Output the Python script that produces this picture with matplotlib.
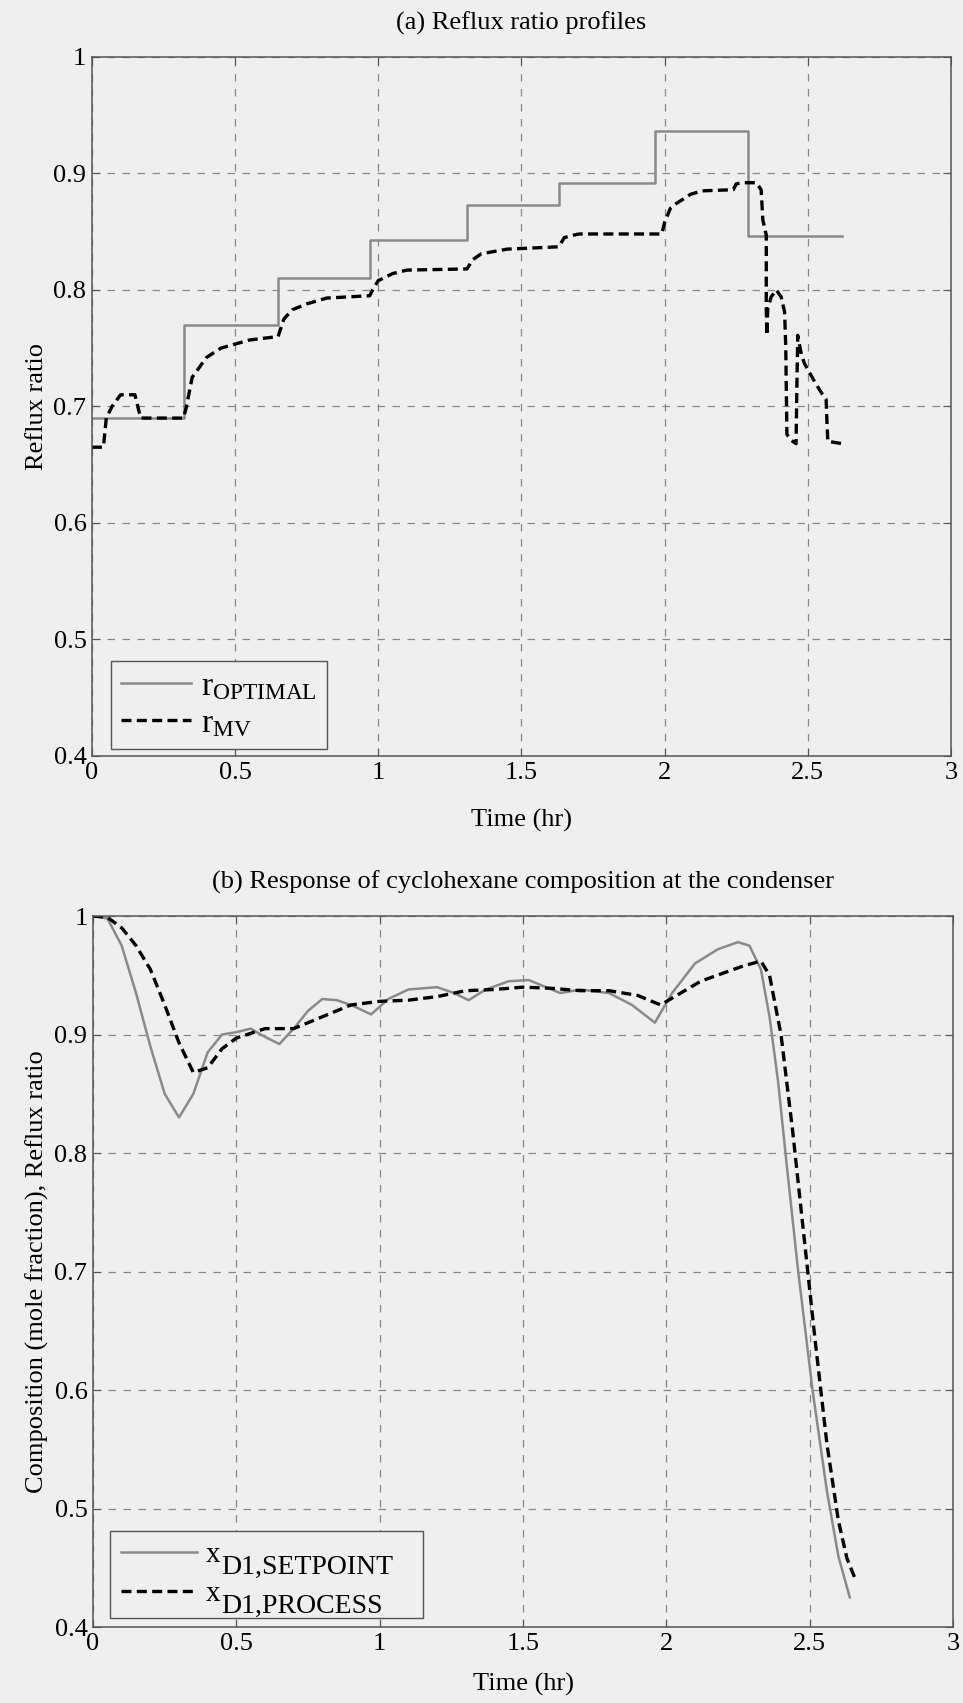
import matplotlib
matplotlib.use("Agg")
import matplotlib.pyplot as plt
from matplotlib.transforms import IdentityTransform
import numpy as np

plt.rcParams['font.family'] = ['Liberation Serif', 'DejaVu Serif']
plt.rcParams['mathtext.fontset'] = 'custom'
plt.rcParams['mathtext.rm'] = 'Liberation Serif'
plt.rcParams['mathtext.it'] = 'Liberation Serif:italic'

# --- (a) reflux ratio profiles ---
t_opt = [0.0, 0.32, 0.65, 0.97, 1.31, 1.63, 1.965, 2.29, 2.62]
r_opt = [0.69, 0.77, 0.81, 0.843, 0.873, 0.892, 0.936, 0.846, 0.846]

t_mv = [0.0, 0.04, 0.05, 0.07, 0.10, 0.15, 0.17, 0.32, 0.33, 0.35, 0.40,
        0.45, 0.55, 0.65, 0.67, 0.70, 0.75, 0.82, 0.97, 0.98, 1.00, 1.05,
        1.10, 1.31, 1.33, 1.36, 1.45, 1.63, 1.65, 1.70, 1.99, 2.00, 2.02,
        2.04, 2.09, 2.13, 2.24, 2.25, 2.27, 2.32, 2.337, 2.343, 2.355,
        2.355, 2.357, 2.36, 2.372, 2.39, 2.407, 2.419, 2.423, 2.427, 2.442,
        2.459, 2.462, 2.465, 2.477, 2.488, 2.506, 2.529, 2.552, 2.564,
        2.567, 2.57, 2.622]
r_mv = [0.665, 0.665, 0.69, 0.70, 0.71, 0.71, 0.69, 0.69, 0.70, 0.725, 0.742,
        0.75, 0.757, 0.76, 0.775, 0.783, 0.788, 0.793, 0.795, 0.80, 0.808, 0.814,
        0.817, 0.818, 0.826, 0.831, 0.835, 0.837, 0.845, 0.848, 0.848, 0.858, 0.870,
        0.874, 0.882, 0.885, 0.886, 0.891, 0.892, 0.892, 0.886, 0.860, 0.847,
        0.784, 0.761, 0.784, 0.794, 0.800, 0.794, 0.781, 0.751, 0.676, 0.671,
        0.668, 0.719, 0.761, 0.745, 0.737, 0.729, 0.719, 0.710, 0.706,
        0.686, 0.670, 0.668]

# --- (b) condenser composition ---
t_sp = [0.0, 0.05, 0.10, 0.15, 0.20, 0.25, 0.30, 0.35, 0.40, 0.45, 0.50, 0.55,
        0.60, 0.65, 0.70, 0.75, 0.80, 0.85, 0.90, 0.97, 1.03, 1.10, 1.20, 1.26,
        1.31, 1.37, 1.45, 1.52, 1.58, 1.63, 1.70, 1.80, 1.88, 1.96, 2.02, 2.10,
        2.18, 2.25, 2.29, 2.33, 2.36, 2.39, 2.42, 2.46, 2.51, 2.56, 2.60, 2.64]
x_sp = [1.0, 0.998, 0.975, 0.935, 0.89, 0.85, 0.83, 0.85, 0.885, 0.90, 0.902, 0.905,
        0.898, 0.892, 0.905, 0.92, 0.93, 0.929, 0.925, 0.917, 0.93, 0.938, 0.94, 0.935,
        0.929, 0.938, 0.945, 0.946, 0.94, 0.935, 0.938, 0.935, 0.925, 0.91, 0.935, 0.96,
        0.972, 0.978, 0.975, 0.955, 0.915, 0.86, 0.79, 0.70, 0.60, 0.515, 0.46, 0.425]

t_pr = [0.0, 0.05, 0.10, 0.15, 0.20, 0.25, 0.30, 0.35, 0.40, 0.45, 0.50, 0.60,
        0.70, 0.80, 0.90, 1.00, 1.10, 1.20, 1.30, 1.40, 1.50, 1.60, 1.70, 1.80,
        1.90, 1.98, 2.05, 2.12, 2.20, 2.27, 2.33, 2.36, 2.40, 2.44, 2.48, 2.52,
        2.56, 2.60, 2.63, 2.66]
x_pr = [1.0, 0.999, 0.99, 0.975, 0.955, 0.925, 0.893, 0.868, 0.872, 0.888, 0.897, 0.905,
        0.905, 0.915, 0.925, 0.928, 0.929, 0.932, 0.937, 0.938, 0.94, 0.939, 0.937, 0.937,
        0.933, 0.925, 0.935, 0.945, 0.952, 0.958, 0.962, 0.95, 0.90, 0.82, 0.73, 0.64,
        0.555, 0.49, 0.458, 0.44]

# legend of (b): main letter + lowered subscript of nearly the same size
leg_b_main = ['x', 'x']
leg_b_sub = ['D1,SETPOINT', 'D1,PROCESS']

bg = '#efefef'
fig = plt.figure(figsize=(9.63, 17.03), dpi=100, facecolor=bg)
ax1 = fig.add_axes([0.0955, 0.5561, 0.8920, 0.4105])
ax2 = fig.add_axes([0.0966, 0.0446, 0.8930, 0.4175])

for ax in (ax1, ax2):
    ax.set_facecolor(bg)
    ax.set_xlim(0, 3)
    ax.set_ylim(0.4, 1)
    ax.set_xticks([0, 0.5, 1, 1.5, 2, 2.5, 3])
    ax.set_xticklabels(['0', '0.5', '1', '1.5', '2', '2.5', '3'])
    ax.set_yticks([0.4, 0.5, 0.6, 0.7, 0.8, 0.9, 1])
    ax.set_yticklabels(['0.4', '0.5', '0.6', '0.7', '0.8', '0.9', '1'])
    ax.tick_params(direction='in', length=6, labelsize=19, top=True, right=True,
                   color='#555555', pad=4)
    ax.grid(True, linestyle=(0, (6, 6)), color='#888888', linewidth=0.9)
    for s in ax.spines.values():
        s.set_color('#555555')
        s.set_linewidth(1.1)

ax1.step(t_opt, r_opt, where='post', color='#8a8a8a', linewidth=1.8,
         label=r'r$_{\mathrm{OPTIMAL}}$')
ax1.plot(t_mv, r_mv, color='black', linestyle=(0, (3, 1.6)), linewidth=2.4,
         label=r'r$_{\mathrm{MV}}$')
ax1.set_title('(a) Reflux ratio profiles', fontsize=19, pad=20)
ax1.set_ylabel('Reflux ratio', fontsize=19, labelpad=4)
ax1.set_xlabel('Time (hr)', fontsize=19, labelpad=18)

ax2.plot(t_sp, x_sp, color='#8a8a8a', linewidth=1.8, label=leg_b_main[0])
ax2.plot(t_pr, x_pr, color='black', linestyle=(0, (3, 1.6)), linewidth=2.4,
         label=leg_b_main[1])
ax2.set_title('(b) Response of cyclohexane composition at the condenser',
              fontsize=19, pad=20)
ax2.set_ylabel('Composition (mole fraction), Reflux ratio', fontsize=19, labelpad=4)
ax2.set_xlabel('Time (hr)', fontsize=19, labelpad=13)

leg1 = ax1.legend(loc='lower left', bbox_to_anchor=(0.022, 0.01), fontsize=24,
                  frameon=True, fancybox=False, edgecolor='#555555',
                  facecolor=bg, framealpha=1, handlelength=2.1,
                  handletextpad=0.3, borderpad=0.3, labelspacing=0.2,
                  borderaxespad=0.0)
leg1.get_frame().set_linewidth(1.0)

leg2 = ax2.legend(loc='lower left', bbox_to_anchor=(0.02, 0.0127, 0.364, 0.12),
                  mode='expand', fontsize=21, frameon=True, fancybox=False,
                  edgecolor='#555555', facecolor=bg, framealpha=1,
                  handlelength=2.6, handletextpad=0.3, borderpad=0.38,
                  labelspacing=0.42, borderaxespad=0.0)
leg2.get_frame().set_linewidth(1.0)

# place the subscripts once the legend has its final position
fig.canvas.draw()
renderer = fig.canvas.get_renderer()
for txt, sub in zip(leg2.get_texts(), leg_b_sub):
    bb = txt.get_window_extent(renderer)
    fig.text(bb.x1 + 1, bb.y0 + 13, sub, transform=IdentityTransform(),
             ha='left', va='top', fontsize=20, zorder=6)

fig.savefig('out.png', dpi=100, facecolor=bg)
